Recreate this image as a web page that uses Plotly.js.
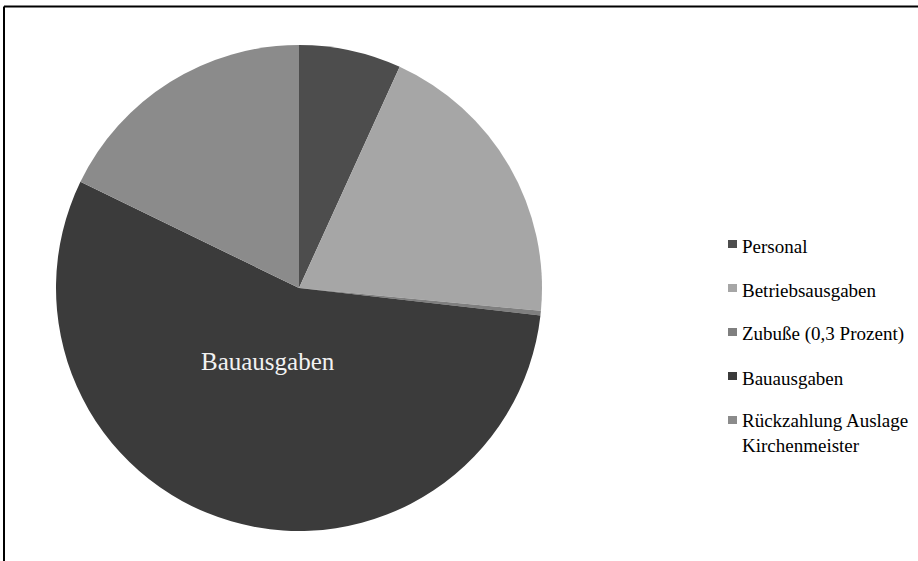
<!DOCTYPE html>
<html>
<head>
<meta charset="utf-8">
<script src="https://cdn.plot.ly/plotly-3.0.1.min.js"></script>
<style>
  html, body { margin: 0; padding: 0; background: #fff; }
  #chart { width: 918px; height: 561px; }
</style>
</head>
<body>
<div id="chart"></div>
<script>
const categories = ["Personal", "Betriebsausgaben", "Zubuße (0,3 Prozent)", "Bauausgaben", "Rückzahlung Auslage Kirchenmeister"];
const legendLabels = ["Personal", "Betriebsausgaben", "Zubuße (0,3 Prozent)", "Bauausgaben", "Rückzahlung Auslage<br>Kirchenmeister"];
const values = [6.8, 19.7, 0.3, 55.4, 17.8];
const colors = ["#4d4d4d", "#a6a6a6", "#7f7f7f", "#3b3b3b", "#8b8b8b"];
const insideLabel = "Bauausgaben";

const W = 918, H = 561;
const px = x => x / W;
const py = y => 1 - y / H;

const trace = {
  type: "pie",
  labels: categories,
  values: values,
  sort: false,
  direction: "clockwise",
  rotation: 0,
  marker: { colors: colors, line: { width: 0 } },
  textinfo: "none",
  hoverinfo: "label+percent",
  domain: { x: [px(56), px(542)], y: [py(531), py(45)] },
  showlegend: false
};

const annotations = [];
const shapes = [];
const fontFam = "Liberation Serif";

legendLabels.forEach((lab, i) => {
  const twoLine = lab.indexOf("<br>") >= 0;
  const yc = 246 + 44 * i;
  annotations.push({
    xref: "paper", yref: "paper",
    x: px(740), y: py(twoLine ? yc + 11 : yc),
    xanchor: "left", yanchor: "middle", align: "left",
    text: lab, showarrow: false,
    font: { family: fontFam, size: 19, color: "#000" }
  });
  shapes.push({
    type: "rect", xref: "paper", yref: "paper",
    x0: px(728), x1: px(737), y0: py(yc - 6), y1: py(yc + 2),
    fillcolor: colors[i], line: { width: 0 }
  });
});

annotations.push({
  xref: "paper", yref: "paper",
  x: px(267.5), y: py(361.5),
  xanchor: "center", yanchor: "middle",
  text: insideLabel, showarrow: false,
  font: { family: fontFam, size: 25, color: "#f2f2f2" }
});

shapes.push({
  type: "line", xref: "paper", yref: "paper",
  x0: px(4), x1: px(918), y0: py(6.5), y1: py(6.5),
  line: { color: "#000", width: 2 }
});
shapes.push({
  type: "line", xref: "paper", yref: "paper",
  x0: px(4), x1: px(4), y0: py(6.5), y1: py(561),
  line: { color: "#000", width: 2 }
});

const layout = {
  width: W, height: H,
  margin: { l: 0, r: 0, t: 0, b: 0 },
  paper_bgcolor: "#fff",
  plot_bgcolor: "#fff",
  showlegend: false,
  annotations: annotations,
  shapes: shapes,
  font: { family: fontFam }
};

Plotly.newPlot("chart", [trace], layout, { displayModeBar: false, staticPlot: true });
</script>
</body>
</html>
